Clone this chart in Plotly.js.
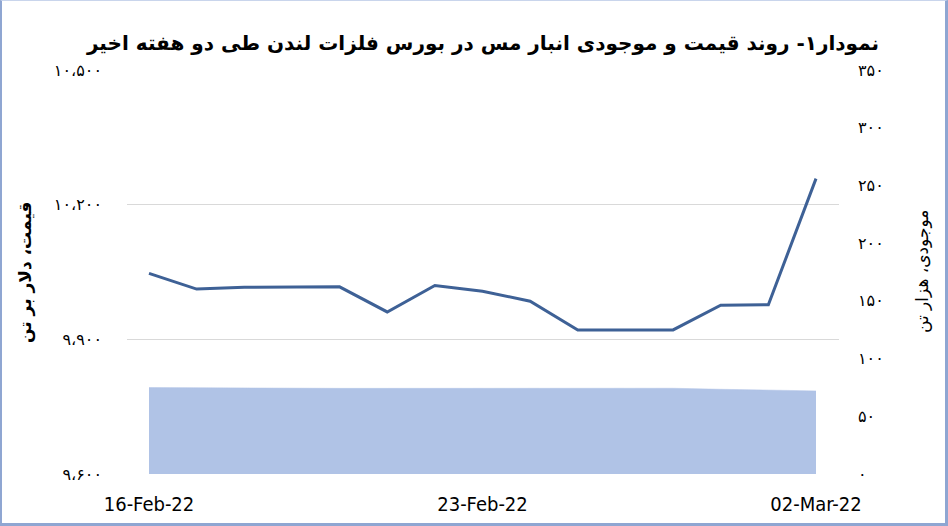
<!DOCTYPE html>
<html>
<head>
<meta charset="utf-8">
<script src="https://cdn.plot.ly/plotly-3.0.1.min.js"></script>
<style>
  html, body { margin: 0; padding: 0; background: #fff; }
  #wrap { position: relative; width: 948px; height: 526px; }
  #chart { width: 948px; height: 526px; }
  #frame {
    position: absolute; left: 0; top: 0; right: 0; bottom: 0; pointer-events: none;
    border-left: 2px solid #8FA6D2; border-top: 1px solid #C9D5EC;
    border-right: 3px solid #8FA6D2; border-bottom: 3px solid #8FA6D2;
  }
</style>
</head>
<body>
<div id="wrap">
  <div id="chart"></div>
  <div id="frame"></div>
</div>
<script>
// LME copper, 16 Feb – 2 Mar 2022
const dates = [
  '2022-02-16', '2022-02-17', '2022-02-18', '2022-02-19', '2022-02-20',
  '2022-02-21', '2022-02-22', '2022-02-23', '2022-02-24', '2022-02-25',
  '2022-02-26', '2022-02-27', '2022-02-28', '2022-03-01', '2022-03-02',
];
// price, $ per tonne (left axis)
const price = [10047, 10012, 10016, 10017, 10017, 9961, 10020, 10007, 9985, 9921, 9921, 9921, 9976, 9977, 10258];
// stocks, thousand tonnes (right axis)
const stocks = [74.9, 74.6, 74.4, 74.3, 74.2, 74.2, 74.2, 74.3, 74.4, 74.4, 74.4, 74.3, 73.4, 72.6, 72.0];

const priceTicks = [9600, 9900, 10200, 10500];
const priceTickLabels = ['۹،۶۰۰', '۹،۹۰۰', '۱۰،۲۰۰', '۱۰،۵۰۰'];
const stockTicks = [0, 50, 100, 150, 200, 250, 300, 350];
const stockTickLabels = ['۰', '۵۰', '۱۰۰', '۱۵۰', '۲۰۰', '۲۵۰', '۳۰۰', '۳۵۰'];

const chartTitle = 'نمودار۱- روند قیمت و موجودی انبار مس در بورس فلزات لندن طی دو هفته اخیر';
const priceTitle = 'قیمت، دلار بر تن';
const stockTitle = 'موجودی، هزار تن';

const FA = "'DejaVu Sans', 'Noto Sans', sans-serif";
const LAT = "'Liberation Sans Narrow', 'DejaVu Sans Condensed', 'Arial Narrow', sans-serif";

const traces = [
  {
    x: dates, y: stocks, yaxis: 'y2', type: 'scatter', mode: 'lines',
    fill: 'tozeroy', fillcolor: '#B0C3E6', line: { color: '#B0C3E6', width: 0.5 },
    hoverinfo: 'skip',
  },
  {
    x: dates, y: price, type: 'scatter', mode: 'lines',
    line: { color: '#3E6196', width: 3 },
    hoverinfo: 'skip',
  },
];

const layout = {
  width: 948, height: 526,
  margin: { l: 127, r: 109, t: 70, b: 52 },
  paper_bgcolor: '#fff', plot_bgcolor: '#fff',
  showlegend: false,
  title: {
    text: '<b>' + chartTitle + '</b>',
    font: { family: FA, size: 20, color: '#000' },
    x: 0.5, xref: 'paper', y: 1 - 43 / 526, yref: 'container', yanchor: 'middle',
  },
  xaxis: {
    type: 'date',
    range: ['2022-02-15 12:55', '2022-03-02 11:35'],
    tick0: '2022-02-16', dtick: 7 * 86400000, tickformat: '%d-%b-%y',
    showgrid: false, zeroline: false, showline: false, ticks: '',
    ticklabelstandoff: 16,
    tickfont: { family: LAT, size: 20, color: '#000' },
  },
  yaxis: {
    range: [9600, 10500], tickvals: priceTicks, ticktext: priceTickLabels,
    showgrid: true, gridcolor: '#D9D9D9', gridwidth: 1, zeroline: false,
    showline: false, ticks: '', ticklabelstandoff: 24,
    tickfont: { family: FA, size: 16, color: '#000' },
  },
  yaxis2: {
    overlaying: 'y', side: 'right',
    range: [0, 350], tickvals: stockTicks, ticktext: stockTickLabels,
    showgrid: false, zeroline: false, showline: false, ticks: '',
    ticklabelstandoff: 18,
    tickfont: { family: FA, size: 16, color: '#000' },
  },
  annotations: [
    {
      text: '<b>' + priceTitle + '</b>', textangle: -90, showarrow: false,
      xref: 'paper', yref: 'paper', x: (25 - 127) / 712, y: 0.5,
      xanchor: 'center', yanchor: 'middle',
      font: { family: FA, size: 17, color: '#000' },
    },
    {
      text: stockTitle, textangle: -90, showarrow: false,
      xref: 'paper', yref: 'paper', x: (922 - 127) / 712, y: 0.5,
      xanchor: 'center', yanchor: 'middle',
      font: { family: FA, size: 17, color: '#000' },
    },
  ],
};

Plotly.newPlot('chart', traces, layout, { displayModeBar: false, staticPlot: true });
</script>
</body>
</html>
